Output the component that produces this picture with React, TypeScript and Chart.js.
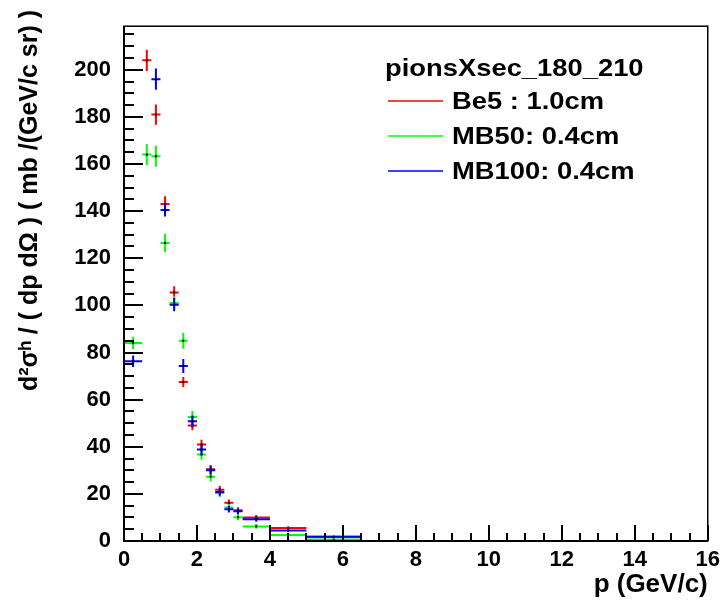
import React, { useEffect, useRef } from "react";
import { Chart, registerables } from "chart.js";
Chart.register(...registerables);

const legendTitle = "pionsXsec_180_210";
const xTitle = "p (GeV/c)";
const yTitle = "d²σʰ / ( dp dΩ ) ( mb /(GeV/c sr) )";

const binLow = [0, 0.5, 0.75, 1.0, 1.25, 1.5, 1.75, 2.0, 2.25, 2.5, 2.75, 3.0, 3.25, 4.0, 5.0];
const binHigh = [0.5, 0.75, 1.0, 1.25, 1.5, 1.75, 2.0, 2.25, 2.5, 2.75, 3.0, 3.25, 4.0, 5.0, 6.5];

const be5Label = "Be5 : 1.0cm";
const be5 = [null, 204, 181, 143, 105.5, 67.5, 49, 41, 30.5, 21.8, 16.2, 13.1, 10.0, 5.5, 1.8];
const be5Err = [0, 4.5, 4.3, 3.3, 2.6, 2.1, 2.0, 2.0, 1.8, 1.6, 1.4, 1.2, 1.0, 0.8, 0.4];

const mb50Label = "MB50: 0.4cm";
const mb50 = [84, 164, 163.3, 126.5, 101, 85, 52.6, 36.7, 27.3, 20.4, 14.2, 10.1, 6.2, 2.5, 0.6];
const mb50Err = [2.7, 4.5, 4.5, 3.9, 3.0, 3.4, 2.6, 2.2, 2.0, 1.7, 1.5, 1.3, 1.0, 0.7, 0.3];

const mb100Label = "MB100: 0.4cm";
const mb100 = [76.3, null, 196, 140.5, 100.3, 74.3, 50.8, 38.8, 30, 20.8, 13.5, 12.6, 9.2, 4.5, 1.8];
const mb100Err = [2.4, 0, 4.5, 2.8, 2.8, 3.0, 2.5, 2.1, 1.9, 1.6, 1.4, 1.2, 1.0, 0.8, 0.4];

const xMin = 0;
const xMax = 16;
const yMin = 0;
const yMax = 218.5;

const FONT = "'Liberation Sans', Arial, Helvetica, sans-serif";

function makeData(vals: (number | null)[], errs: number[]) {
  const out: any[] = [];
  vals.forEach((v, i) => {
    if (v === null) return;
    out.push({ x: (binLow[i] + binHigh[i]) / 2, y: v, xlo: binLow[i], xhi: binHigh[i], ey: errs[i] });
  });
  return out;
}

function stretchedText(ctx: CanvasRenderingContext2D, text: string, x: number, y: number, sx: number) {
  ctx.save();
  ctx.translate(x, y);
  ctx.scale(sx, 1);
  ctx.fillText(text, 0, 0);
  ctx.restore();
}

const errorBarPlugin = {
  id: "errorBars",
  afterDatasetsDraw(chart: any) {
    const { ctx, chartArea, scales } = chart;
    const xs = scales.x;
    const ys = scales.y;
    ctx.save();
    ctx.beginPath();
    ctx.rect(chartArea.left, chartArea.top, chartArea.right - chartArea.left, chartArea.bottom - chartArea.top);
    ctx.clip();
    chart.data.datasets.forEach((ds: any) => {
      ctx.strokeStyle = ds.borderColor;
      ctx.lineWidth = 2;
      ds.data.forEach((p: any) => {
        const px = xs.getPixelForValue(p.x);
        const py = ys.getPixelForValue(p.y);
        const x1 = xs.getPixelForValue(p.xlo);
        const x2 = xs.getPixelForValue(p.xhi);
        const y1 = ys.getPixelForValue(p.y - p.ey);
        const y2 = ys.getPixelForValue(p.y + p.ey);
        ctx.beginPath();
        ctx.moveTo(x1, py);
        ctx.lineTo(x2, py);
        ctx.moveTo(px, y1);
        ctx.lineTo(px, y2);
        ctx.stroke();
        ctx.fillStyle = "#000";
        ctx.fillRect(px - 1, py - 1, 2, 2);
      });
    });
    ctx.restore();
  },
  afterDraw(chart: any) {
    const { ctx, chartArea, scales } = chart;
    const xs = scales.x;
    const ys = scales.y;
    const { left, right, top, bottom } = chartArea;
    ctx.save();
    ctx.strokeStyle = "#000";
    // frame
    ctx.lineWidth = 1.5;
    ctx.strokeRect(left, top, right - left, bottom - top);
    ctx.lineWidth = 2;
    ctx.beginPath();
    ctx.moveTo(left, top);
    ctx.lineTo(left, bottom);
    ctx.lineTo(right, bottom);
    ctx.stroke();
    // ticks
    ctx.lineWidth = 2;
    ctx.beginPath();
    for (let v = 0; v <= yMax; v += 5) {
      const py = Math.round(ys.getPixelForValue(v));
      const len = v % 20 === 0 ? 19 : 10;
      ctx.moveTo(left, py);
      ctx.lineTo(left + len, py);
    }
    for (let v = 0; v <= xMax; v += 0.5) {
      const px = Math.round(xs.getPixelForValue(v));
      const len = v % 2 === 0 ? 16 : 8;
      ctx.moveTo(px, bottom);
      ctx.lineTo(px, bottom - len);
    }
    ctx.stroke();
    // y-axis title (ROOT style: right-aligned to the top of the axis)
    ctx.fillStyle = "#000";
    ctx.save();
    ctx.translate(30, 10);
    ctx.rotate(-Math.PI / 2);
    ctx.textAlign = "right";
    ctx.textBaseline = "middle";
    ctx.font = `bold 25px ${FONT}`;
    ctx.fillText(yTitle, 0, 0);
    ctx.restore();
    // legend
    ctx.textBaseline = "middle";
    ctx.textAlign = "left";
    ctx.font = `bold 24px ${FONT}`;
    stretchedText(ctx, legendTitle, 385, 69, 1.14);
    chart.data.datasets.forEach((ds: any, i: number) => {
      const y = 101 + i * 35;
      ctx.strokeStyle = ds.borderColor;
      ctx.lineWidth = 1.5;
      ctx.beginPath();
      ctx.moveTo(388, y);
      ctx.lineTo(443, y);
      ctx.stroke();
      stretchedText(ctx, ds.label, 452, y + 1, 1.14);
    });
    ctx.restore();
  },
};

export default function App() {
  const ref = useRef<HTMLCanvasElement>(null);
  useEffect(() => {
    if (!ref.current) return;
    const chart = new Chart(ref.current, {
      type: "scatter",
      data: {
        datasets: [
          { label: be5Label, data: makeData(be5, be5Err), borderColor: "#ff0000", backgroundColor: "#ff0000", pointRadius: 0, showLine: false },
          { label: mb50Label, data: makeData(mb50, mb50Err), borderColor: "#00ff00", backgroundColor: "#00ff00", pointRadius: 0, showLine: false },
          { label: mb100Label, data: makeData(mb100, mb100Err), borderColor: "#0000ff", backgroundColor: "#0000ff", pointRadius: 0, showLine: false },
        ],
      },
      options: {
        responsive: false,
        animation: false,
        events: [],
        layout: { padding: { left: 0, right: 18, top: 13, bottom: 0 } },
        plugins: { legend: { display: false }, tooltip: { enabled: false } },
        scales: {
          x: {
            type: "linear",
            min: xMin,
            max: xMax,
            border: { display: false },
            grid: { display: false, drawTicks: false },
            ticks: {
              stepSize: 2,
              color: "#000",
              font: { family: FONT, size: 22, weight: "bold" },
              padding: 6,
              maxRotation: 0,
            },
            title: {
              display: true,
              text: xTitle,
              align: "end",
              color: "#000",
              font: { family: FONT, size: 26, weight: "bold" },
              padding: { top: 0, bottom: 2 },
            },
            afterFit: (s: any) => { s.height = 61; },
          },
          y: {
            type: "linear",
            min: yMin,
            max: yMax,
            border: { display: false },
            grid: { display: false, drawTicks: false },
            afterBuildTicks: (s: any) => { s.ticks = s.ticks.filter((t: any) => t.value % 20 === 0); },
            ticks: {
              stepSize: 20,
              color: "#000",
              font: { family: FONT, size: 22, weight: "bold" },
              padding: 13,
            },
            title: { display: false },
            afterFit: (s: any) => { s.width = 124; },
          },
        },
      },
      plugins: [errorBarPlugin],
    } as any);
    return () => chart.destroy();
  }, []);
  return (
    <div style={{ position: "absolute", left: 0, top: 0, width: 726, height: 602, background: "#fff" }}>
      <canvas ref={ref} width={726} height={602} />
    </div>
  );
}
